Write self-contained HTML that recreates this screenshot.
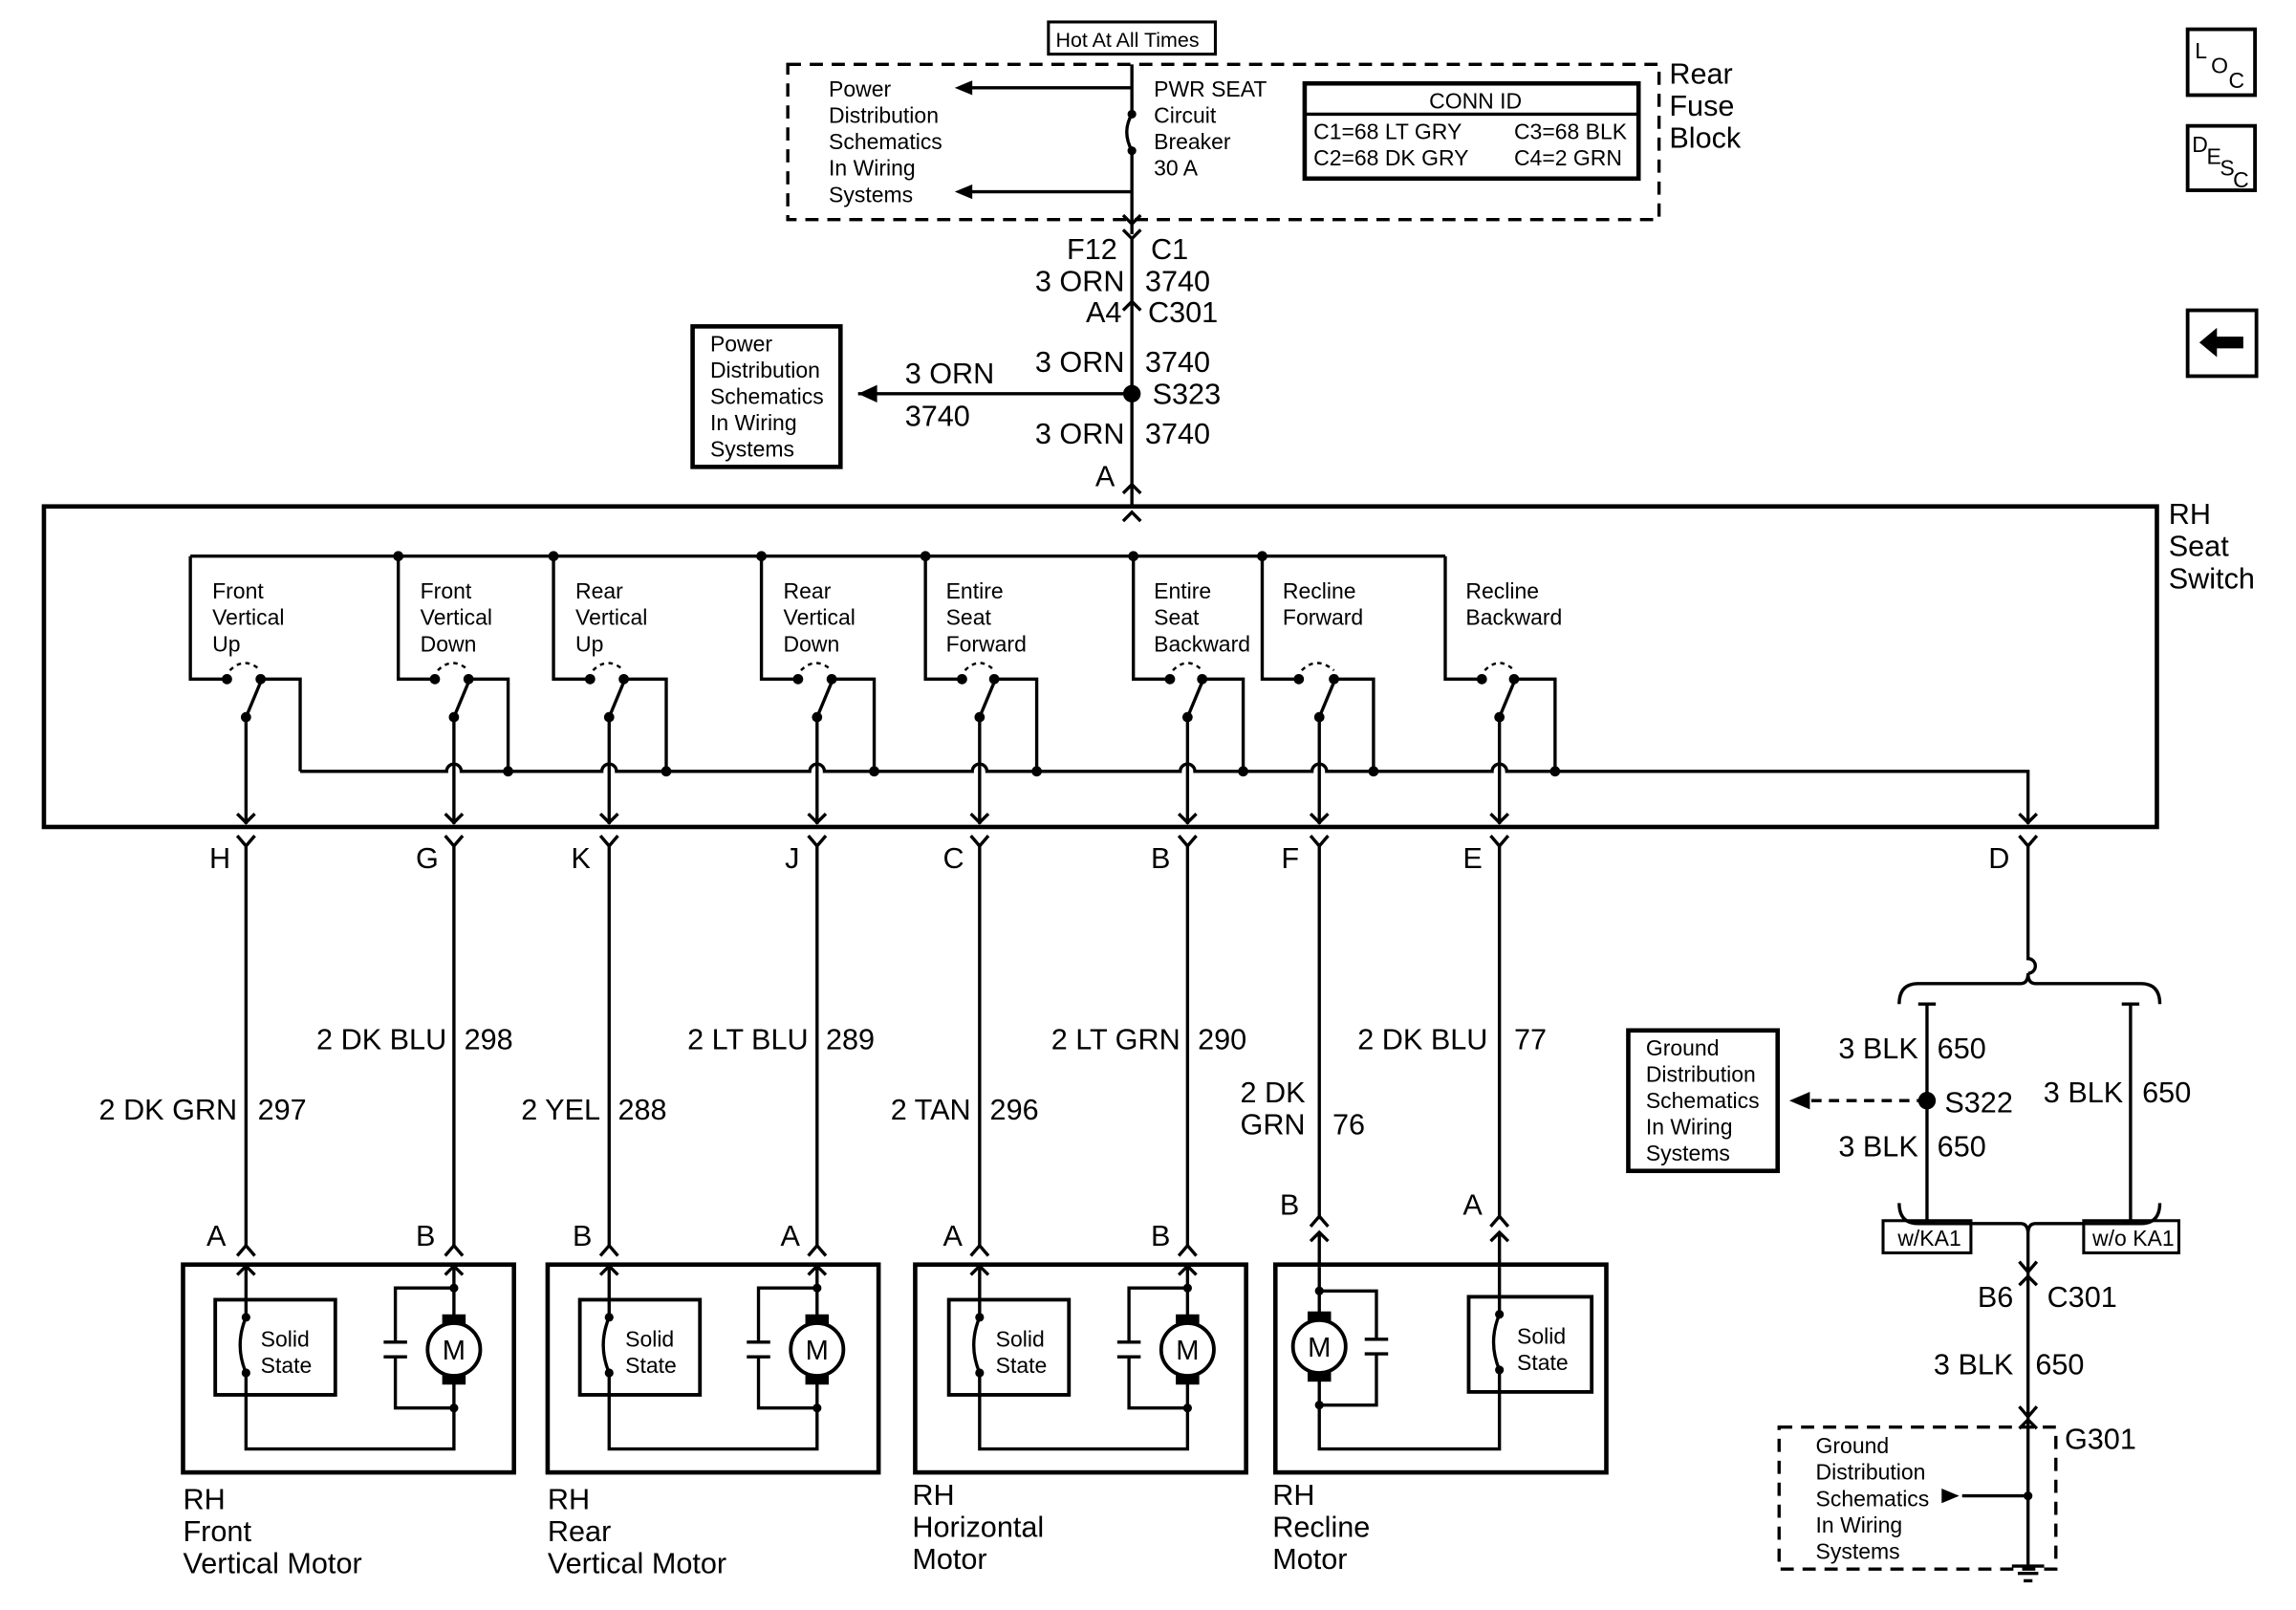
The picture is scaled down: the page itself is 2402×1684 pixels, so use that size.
<!DOCTYPE html>
<html><head><meta charset="utf-8"><style>
html,body{margin:0;padding:0;background:#fff;}
svg{display:block;}
text{font-family:"Liberation Sans",Arial,sans-serif;fill:#000;}
.s{font-size:15px;}
.w{font-size:20px;}
.b{font-size:20px;}
</style></head><body>
<svg width="2402" height="1684" viewBox="0 0 1568 1100" preserveAspectRatio="none" xmlns="http://www.w3.org/2000/svg">
<g fill="none" stroke="#000" stroke-width="2.2">
<rect x="716" y="15" width="114" height="22" stroke-width="2"/>
<rect x="538" y="44" width="595" height="106" stroke-dasharray="9,6"/>
<rect x="891" y="57" width="228" height="65" stroke-width="3"/>
<line x1="891" y1="78" x2="1119" y2="78"/>
<path d="M773 44 V78 M773 103 V160"/>
<path d="M773 78 Q766 90 773 103"/>
<path d="M773 60 H660 M773 131 H660"/>
<path d="M767 147 L773 153 L779 147"/>
<path d="M773 162 V347"/>
<path d="M767 157 L773 163 L779 157"/>
<path d="M767 212 L773 206 L779 212"/>
<path d="M767 337 L773 331 L779 337"/>
<path d="M586 269 H773"/>
<rect x="473" y="223" width="101" height="96" stroke-width="3"/>
<rect x="30" y="346" width="1443" height="219" stroke-width="3"/>
<path d="M767 356 L773 350 L779 356"/>
<path d="M130 380 H987"/>
<path d="M130 380 V464 H155 M178 464 H205 V527"/>
<path d="M272 380 V464 H297 M320 464 H347 V527"/>
<path d="M378 380 V464 H403 M426 464 H455 V527"/>
<path d="M520 380 V464 H545 M568 464 H597 V527"/>
<path d="M632 380 V464 H657 M679 464 H708 V527"/>
<path d="M774 380 V464 H799 M821 464 H849 V527"/>
<path d="M862 380 V464 H887 M911 464 H938 V527"/>
<path d="M987 380 V464 H1012 M1034 464 H1062 V527"/>
<g stroke-dasharray="3,3" stroke-width="1.6">
<path d="M157 458 Q167 448 178 458"/><path d="M299 458 Q309 448 320 458"/><path d="M405 458 Q415 448 426 458"/><path d="M547 458 Q557 448 568 458"/>
<path d="M659 458 Q669 448 679 458"/><path d="M801 458 Q811 448 821 458"/><path d="M889 458 Q899 448 911 458"/><path d="M1014 458 Q1024 448 1034 458"/>
</g>
<path d="M168 490 L178 466 M310 490 L320 466 M416 490 L426 466 M558 490 L568 466 M669 490 L679 466 M811 490 L821 466 M901 490 L911 466 M1024 490 L1034 466"/>
<path d="M168 490 V563 M310 490 V563 M416 490 V563 M558 490 V563 M669 490 V563 M811 490 V563 M901 490 V563 M1024 490 V563"/>
<path d="M205 527 H305 a5 5 0 0 1 10 0 H411 a5 5 0 0 1 10 0 H553 a5 5 0 0 1 10 0 H664 a5 5 0 0 1 10 0 H806 a5 5 0 0 1 10 0 H896 a5 5 0 0 1 10 0 H1019 a5 5 0 0 1 10 0 H1385 V563"/>
<g>
<path d="M162 556 L168 562 L174 556"/><path d="M304 556 L310 562 L316 556"/><path d="M410 556 L416 562 L422 556"/><path d="M552 556 L558 562 L564 556"/>
<path d="M663 556 L669 562 L675 556"/><path d="M805 556 L811 562 L817 556"/><path d="M895 556 L901 562 L907 556"/><path d="M1018 556 L1024 562 L1030 556"/><path d="M1379 556 L1385 562 L1391 556"/>
</g>
<path d="M162 571 L168 578 L174 571 M304 571 L310 578 L316 571 M410 571 L416 578 L422 571 M552 571 L558 578 L564 571 M663 571 L669 578 L675 571 M805 571 L811 578 L817 571 M895 571 L901 578 L907 571 M1018 571 L1024 578 L1030 571 M1379 571 L1385 578 L1391 571"/>
<path d="M168 578 V852 M310 578 V852 M416 578 V852 M558 578 V852 M669 578 V852 M811 578 V852 M901 578 V833 M1024 578 V833"/>
<path d="M162 858 L168 851 L174 858 M304 858 L310 851 L316 858 M410 858 L416 851 L422 858 M552 858 L558 851 L564 858 M663 858 L669 851 L675 858 M805 858 L811 851 L817 858 M895 838 L901 831 L907 838 M1018 838 L1024 831 L1030 838"/>
<path d="M162 871 L168 865 L174 871 M304 871 L310 865 L316 871 M410 871 L416 865 L422 871 M552 871 L558 865 L564 871 M663 871 L669 865 L675 871 M805 871 L811 865 L817 871"/>
<path d="M895 848 L901 842 L907 848 M1018 848 L1024 842 L1030 848 M901 842 V866 M1024 842 V866"/>
<rect x="125" y="864" width="226" height="142" stroke-width="3"/>
<rect x="374" y="864" width="226" height="142" stroke-width="3"/>
<rect x="625" y="864" width="226" height="142" stroke-width="3"/>
<rect x="871" y="864" width="226" height="142" stroke-width="3"/>
<rect x="147" y="888" width="82" height="65" stroke-width="2.5"/>
<path d="M168 866 V900 M168 938 V990 H310 V962 M168 900 Q160 919 168 938"/>
<path d="M310 866 V904 M310 940 V962 M310 880 H270 V917 M270 927 V962 H310 M262 917 H278 M262 927 H278"/>
<circle cx="310" cy="922" r="18" stroke-width="2.5"/>
<rect x="396" y="888" width="82" height="65" stroke-width="2.5"/>
<path d="M416 866 V900 M416 938 V990 H558 V962 M416 900 Q408 919 416 938"/>
<path d="M558 866 V904 M558 940 V962 M558 880 H518 V917 M518 927 V962 H558 M510 917 H526 M510 927 H526"/>
<circle cx="558" cy="922" r="18" stroke-width="2.5"/>
<rect x="648" y="888" width="82" height="65" stroke-width="2.5"/>
<path d="M669 866 V900 M669 938 V990 H811 V962 M669 900 Q661 919 669 938"/>
<path d="M811 866 V904 M811 940 V962 M811 880 H771 V917 M771 927 V962 H811 M763 917 H779 M763 927 H779"/>
<circle cx="811" cy="922" r="18" stroke-width="2.5"/>
<rect x="1003" y="886" width="84" height="65" stroke-width="2.5"/>
<path d="M1024 866 V898 M1024 936 V990 H901 V960 M1024 898 Q1016 917 1024 936"/>
<path d="M901 866 V902 M901 938 V960 M901 882 H940 V915 M940 925 V960 H901 M932 915 H948 M932 925 H948"/>
<circle cx="901" cy="920" r="18" stroke-width="2.5"/>
<path d="M1385 578 V655 a5 5 0 0 1 0 10 V665"/>
<path d="M1297 686 Q1297 672 1310 672 H1380 Q1385 672 1385 665 Q1385 672 1390 672 H1462 Q1475 672 1475 686"/>
<path d="M1316 686 V836 M1455 686 V836 M1310 686 H1322 M1449 686 H1461 M1310 836 H1322 M1449 836 H1461"/>
<path d="M1297 822 Q1297 836 1310 836 H1380 Q1385 836 1385 843 Q1385 836 1390 836 H1462 Q1475 836 1475 822"/>
<path d="M1385 843 V1070"/>
<path d="M1379 862 L1385 869 L1391 862 M1379 878 L1385 872 L1391 878 M1379 961 L1385 968 L1391 961 M1379 976 L1385 970 L1391 976"/>
<rect x="1112" y="704" width="102" height="96" stroke-width="3"/>
<path d="M1316 752 H1236" stroke-dasharray="7,5"/>
<rect x="1286" y="834" width="60" height="22" stroke-width="2"/>
<rect x="1423" y="834" width="65" height="22" stroke-width="2"/>
<rect x="1215" y="975" width="189" height="97" stroke-dasharray="9,6"/>
<path d="M1340 1022 H1385"/>
<path d="M1374 1070 H1396 M1378 1075 H1392 M1382 1080 H1388"/>
<rect x="1494" y="20" width="46" height="45" stroke-width="2.5"/>
<rect x="1494" y="86" width="46" height="44" stroke-width="2.5"/>
<rect x="1494" y="212" width="47" height="45" stroke-width="2.5"/>
</g>
<g fill="#000">
<path d="M652 60 L664 55 L664 65 Z M652 131 L664 126 L664 136 Z M586 269 L599 263 L599 275 Z M1222 752 L1236 746 L1236 758 Z M1338 1022 L1326 1017 L1326 1027 Z"/>
<path d="M1502 234 L1514 224 L1514 230 L1532 230 L1532 238 L1514 238 L1514 244 Z"/>
<circle cx="773" cy="78" r="3"/><circle cx="773" cy="103" r="3"/><circle cx="773" cy="269" r="6"/>
<circle cx="272" cy="380" r="3.5"/><circle cx="378" cy="380" r="3.5"/><circle cx="520" cy="380" r="3.5"/><circle cx="632" cy="380" r="3.5"/><circle cx="774" cy="380" r="3.5"/><circle cx="862" cy="380" r="3.5"/>
<circle cx="155" cy="464" r="3.5"/><circle cx="178" cy="464" r="3.5"/><circle cx="168" cy="490" r="3.5"/>
<circle cx="297" cy="464" r="3.5"/><circle cx="320" cy="464" r="3.5"/><circle cx="310" cy="490" r="3.5"/>
<circle cx="403" cy="464" r="3.5"/><circle cx="426" cy="464" r="3.5"/><circle cx="416" cy="490" r="3.5"/>
<circle cx="545" cy="464" r="3.5"/><circle cx="568" cy="464" r="3.5"/><circle cx="558" cy="490" r="3.5"/>
<circle cx="657" cy="464" r="3.5"/><circle cx="679" cy="464" r="3.5"/><circle cx="669" cy="490" r="3.5"/>
<circle cx="799" cy="464" r="3.5"/><circle cx="821" cy="464" r="3.5"/><circle cx="811" cy="490" r="3.5"/>
<circle cx="887" cy="464" r="3.5"/><circle cx="911" cy="464" r="3.5"/><circle cx="901" cy="490" r="3.5"/>
<circle cx="1012" cy="464" r="3.5"/><circle cx="1034" cy="464" r="3.5"/><circle cx="1024" cy="490" r="3.5"/>
<circle cx="347" cy="527" r="3.5"/><circle cx="455" cy="527" r="3.5"/><circle cx="597" cy="527" r="3.5"/><circle cx="708" cy="527" r="3.5"/><circle cx="849" cy="527" r="3.5"/><circle cx="938" cy="527" r="3.5"/><circle cx="1062" cy="527" r="3.5"/>
<circle cx="168" cy="900" r="3"/><circle cx="168" cy="938" r="3"/><circle cx="310" cy="880" r="3"/><circle cx="310" cy="962" r="3"/>
<rect x="302" y="898" width="16" height="7"/><rect x="302" y="939" width="16" height="7"/>
<circle cx="416" cy="900" r="3"/><circle cx="416" cy="938" r="3"/><circle cx="558" cy="880" r="3"/><circle cx="558" cy="962" r="3"/>
<rect x="550" y="898" width="16" height="7"/><rect x="550" y="939" width="16" height="7"/>
<circle cx="669" cy="900" r="3"/><circle cx="669" cy="938" r="3"/><circle cx="811" cy="880" r="3"/><circle cx="811" cy="962" r="3"/>
<rect x="803" y="898" width="16" height="7"/><rect x="803" y="939" width="16" height="7"/>
<circle cx="1024" cy="898" r="3"/><circle cx="1024" cy="936" r="3"/><circle cx="901" cy="882" r="3"/><circle cx="901" cy="960" r="3"/>
<rect x="893" y="896" width="16" height="7"/><rect x="893" y="937" width="16" height="7"/>
<circle cx="1316" cy="752" r="6"/><circle cx="1385" cy="1022" r="3"/>
</g>
<g style="font-size:19px" text-anchor="middle">
<text x="310" y="929">M</text><text x="558" y="929">M</text><text x="811" y="929">M</text><text x="901" y="927">M</text>
</g>
<text x="721" y="32" style="font-size:14px">Hot At All Times</text>
<g class="s">
<text x="566" y="66">Power</text><text x="566" y="84">Distribution</text><text x="566" y="102">Schematics</text><text x="566" y="120">In Wiring</text><text x="566" y="138">Systems</text>
<text x="788" y="66">PWR SEAT</text><text x="788" y="84">Circuit</text><text x="788" y="102">Breaker</text><text x="788" y="120">30 A</text>
<text x="976" y="74">CONN ID</text>
<text x="897" y="95">C1=68 LT GRY</text><text x="1034" y="95">C3=68 BLK</text>
<text x="897" y="113">C2=68 DK GRY</text><text x="1034" y="113">C4=2 GRN</text>
<text x="485" y="240">Power</text><text x="485" y="258">Distribution</text><text x="485" y="276">Schematics</text><text x="485" y="294">In Wiring</text><text x="485" y="312">Systems</text>
<text x="145" y="409">Front</text><text x="145" y="427">Vertical</text><text x="145" y="445">Up</text>
<text x="287" y="409">Front</text><text x="287" y="427">Vertical</text><text x="287" y="445">Down</text>
<text x="393" y="409">Rear</text><text x="393" y="427">Vertical</text><text x="393" y="445">Up</text>
<text x="535" y="409">Rear</text><text x="535" y="427">Vertical</text><text x="535" y="445">Down</text>
<text x="646" y="409">Entire</text><text x="646" y="427">Seat</text><text x="646" y="445">Forward</text>
<text x="788" y="409">Entire</text><text x="788" y="427">Seat</text><text x="788" y="445">Backward</text>
<text x="876" y="409">Recline</text><text x="876" y="427">Forward</text>
<text x="1001" y="409">Recline</text><text x="1001" y="427">Backward</text>
<text x="178" y="920">Solid</text><text x="178" y="938">State</text>
<text x="427" y="920">Solid</text><text x="427" y="938">State</text>
<text x="680" y="920">Solid</text><text x="680" y="938">State</text>
<text x="1036" y="918">Solid</text><text x="1036" y="936">State</text>
<text x="1124" y="721">Ground</text><text x="1124" y="739">Distribution</text><text x="1124" y="757">Schematics</text><text x="1124" y="775">In Wiring</text><text x="1124" y="793">Systems</text>
<text x="1296" y="851">w/KA1</text><text x="1429" y="851">w/o KA1</text>
<text x="1240" y="993">Ground</text><text x="1240" y="1011">Distribution</text><text x="1240" y="1029">Schematics</text><text x="1240" y="1047">In Wiring</text><text x="1240" y="1065">Systems</text>
</g>
<g class="b">
<text x="1140" y="57">Rear</text><text x="1140" y="79">Fuse</text><text x="1140" y="101">Block</text>
<text x="1481" y="358">RH</text><text x="1481" y="380">Seat</text><text x="1481" y="402">Switch</text>
<text x="125" y="1031">RH</text><text x="125" y="1053">Front</text><text x="125" y="1075">Vertical Motor</text>
<text x="374" y="1031">RH</text><text x="374" y="1053">Rear</text><text x="374" y="1075">Vertical Motor</text>
<text x="623" y="1028">RH</text><text x="623" y="1050">Horizontal</text><text x="623" y="1072">Motor</text>
<text x="869" y="1028">RH</text><text x="869" y="1050">Recline</text><text x="869" y="1072">Motor</text>
</g>
<g class="w">
<text x="763" y="177" text-anchor="end">F12</text><text x="786" y="177">C1</text>
<text x="768" y="199" text-anchor="end">3 ORN</text><text x="782" y="199">3740</text>
<text x="766" y="220" text-anchor="end">A4</text><text x="784" y="220">C301</text>
<text x="768" y="254" text-anchor="end">3 ORN</text><text x="782" y="254">3740</text>
<text x="787" y="276">S323</text>
<text x="618" y="262">3 ORN</text><text x="618" y="291">3740</text>
<text x="768" y="303" text-anchor="end">3 ORN</text><text x="782" y="303">3740</text>
<text x="748" y="332">A</text>
<text x="143" y="593">H</text><text x="284" y="593">G</text><text x="390" y="593">K</text><text x="536" y="593">J</text><text x="644" y="593">C</text><text x="786" y="593">B</text><text x="875" y="593">F</text><text x="999" y="593">E</text><text x="1358" y="593">D</text>
<text x="162" y="765" text-anchor="end">2 DK GRN</text><text x="176" y="765">297</text>
<text x="305" y="717" text-anchor="end">2 DK BLU</text><text x="317" y="717">298</text>
<text x="410" y="765" text-anchor="end">2 YEL</text><text x="422" y="765">288</text>
<text x="552" y="717" text-anchor="end">2 LT BLU</text><text x="564" y="717">289</text>
<text x="663" y="765" text-anchor="end">2 TAN</text><text x="676" y="765">296</text>
<text x="806" y="717" text-anchor="end">2 LT GRN</text><text x="818" y="717">290</text>
<text x="847" y="753">2 DK</text><text x="847" y="775">GRN</text><text x="910" y="775">76</text>
<text x="1016" y="717" text-anchor="end">2 DK BLU</text><text x="1034" y="717">77</text>
<text x="141" y="851">A</text><text x="284" y="851">B</text><text x="391" y="851">B</text><text x="533" y="851">A</text><text x="644" y="851">A</text><text x="786" y="851">B</text>
<text x="874" y="830">B</text><text x="999" y="830">A</text>
<text x="1310" y="723" text-anchor="end">3 BLK</text><text x="1323" y="723">650</text>
<text x="1328" y="760">S322</text>
<text x="1310" y="790" text-anchor="end">3 BLK</text><text x="1323" y="790">650</text>
<text x="1450" y="753" text-anchor="end">3 BLK</text><text x="1463" y="753">650</text>
<text x="1375" y="893" text-anchor="end">B6</text><text x="1398" y="893">C301</text>
<text x="1375" y="939" text-anchor="end">3 BLK</text><text x="1390" y="939">650</text>
<text x="1410" y="990">G301</text>
</g>
<g style="font-size:15px">
<text x="1499" y="40">L</text><text x="1510" y="50">O</text><text x="1522" y="60">C</text>
<text x="1497" y="104">D</text><text x="1507" y="112">E</text><text x="1516" y="120">S</text><text x="1525" y="128">C</text>
</g>
</svg>
</body></html>
